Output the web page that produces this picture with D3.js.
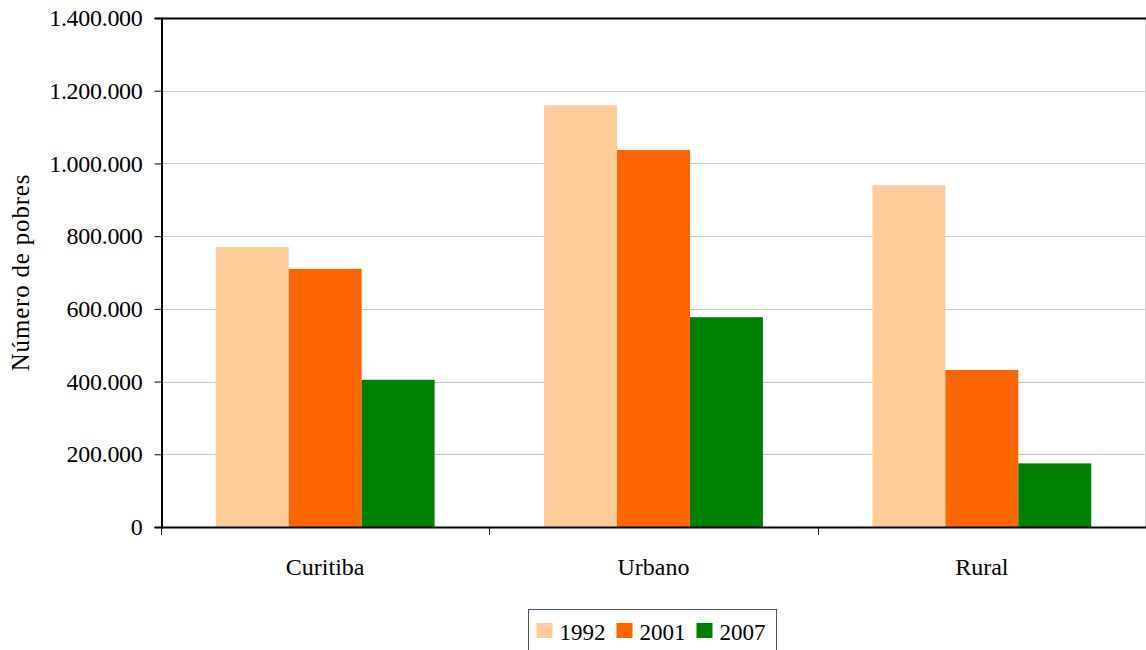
<!DOCTYPE html>
<html>
<head>
<meta charset="utf-8">
<script src="https://cdn.jsdelivr.net/npm/d3@7"></script>
<style>
  html, body { margin: 0; padding: 0; background: #fff; }
  svg { display: block; }
  svg text { font-family: "Liberation Serif", Tinos, "Times New Roman", "DejaVu Serif", serif !important; fill: #000; }
</style>
</head>
<body>
<svg id="chart" width="1146" height="650"></svg>
<script>
// Number of poor people by area and year
const categories = ["Curitiba", "Urbano", "Rural"];
const years = ["1992", "2001", "2007"];
const values1992 = [770000, 1160000, 940000];
const values2001 = [710000, 1037000, 432000];
const values2007 = [405000, 577000, 175000];
const yTicks = [0, 200000, 400000, 600000, 800000, 1000000, 1200000, 1400000];
const colors = ["#FFCC99", "#FF6600", "#008000"];

const seriesValues = [values1992, values2001, values2007];
const FONT = "'Liberation Serif', Tinos, 'Times New Roman', 'DejaVu Serif', serif";

const svg = d3.select("#chart");
const margin = { left: 161, top: 18, right: 1145, bottom: 527 };

const x = d3.scaleBand()
  .domain(categories)
  .range([margin.left, 1146])
  .paddingInner(0)
  .paddingOuter(0);

const x1 = d3.scaleBand()
  .domain(years)
  .range([0, x.bandwidth()])
  .paddingInner(0)
  .paddingOuter(0.75);

const y = d3.scaleLinear()
  .domain([0, 1400000])
  .range([margin.bottom, margin.top]);

// Portuguese-style thousands separator
const fmt = d => d3.format(",")(d).replace(/,/g, ".");

// Gridlines
svg.append("g")
  .selectAll("line")
  .data(yTicks.slice(1))
  .join("line")
  .attr("x1", margin.left)
  .attr("x2", margin.right)
  .attr("y1", d => Math.round(y(d)) + 0.5)
  .attr("y2", d => Math.round(y(d)) + 0.5)
  .attr("stroke", "#c8c8c8")
  .attr("stroke-width", 1);

// Right border of plot area
svg.append("line")
  .attr("x1", margin.right + 0.5).attr("x2", margin.right + 0.5)
  .attr("y1", margin.top).attr("y2", margin.bottom)
  .attr("stroke", "#d0d0d0");

// Bars
const groups = svg.append("g")
  .selectAll("g")
  .data(categories)
  .join("g")
  .attr("transform", d => `translate(${x(d)},0)`);

groups.selectAll("rect")
  .data((c, i) => years.map((yr, s) => ({ yr, s, v: seriesValues[s][i] })))
  .join("rect")
  .attr("x", d => x1(d.yr))
  .attr("width", x1.bandwidth())
  .attr("y", d => y(d.v))
  .attr("height", d => y(0) - y(d.v))
  .attr("fill", d => colors[d.s]);

// Top border
svg.append("line")
  .attr("x1", margin.left).attr("x2", 1146)
  .attr("y1", margin.top + 0.5).attr("y2", margin.top + 0.5)
  .attr("stroke", "#000").attr("stroke-width", 2);

// Y axis
const yAxis = d3.axisLeft(y)
  .tickValues(yTicks)
  .tickFormat(fmt)
  .tickSize(7)
  .tickPadding(12);

const gy = svg.append("g")
  .attr("transform", `translate(${margin.left + 0.5},0)`)
  .call(yAxis)
  .attr("font-family", FONT)
  .attr("font-size", 24);
gy.select(".domain").attr("stroke", "#000").attr("stroke-width", 2);
gy.selectAll(".tick line").attr("stroke", "#000");
gy.selectAll(".tick text").attr("fill", "#000").attr("letter-spacing", -0.3);

// X axis (ticks between categories)
const xAxisLine = svg.append("g");
xAxisLine.append("line")
  .attr("x1", margin.left).attr("x2", 1146)
  .attr("y1", margin.bottom + 0.5).attr("y2", margin.bottom + 0.5)
  .attr("stroke", "#000").attr("stroke-width", 2);
xAxisLine.selectAll("line.tk")
  .data(categories)
  .join("line")
  .attr("class", "tk")
  .attr("x1", d => Math.round(x(d)) + 0.5)
  .attr("x2", d => Math.round(x(d)) + 0.5)
  .attr("y1", margin.bottom)
  .attr("y2", margin.bottom + 8)
  .attr("stroke", "#000");

svg.append("g")
  .attr("font-family", FONT)
  .selectAll("text")
  .data(categories)
  .join("text")
  .attr("x", d => x(d) + x.bandwidth() / 2)
  .attr("y", 575)
  .attr("text-anchor", "middle")
  .attr("font-size", 24)
  .text(d => d);

// Y axis title
svg.append("text")
  .attr("font-family", FONT)
  .attr("transform", `translate(29,${(margin.top + margin.bottom) / 2}) rotate(-90)`)
  .attr("text-anchor", "middle")
  .attr("font-size", 25)
  .attr("letter-spacing", 0.8)
  .text("Número de pobres");

// Legend
const legend = svg.append("g")
  .attr("font-family", FONT)
  .attr("transform", "translate(528.5,609.5)");
legend.append("rect")
  .attr("width", 248)
  .attr("height", 50)
  .attr("fill", "#fff")
  .attr("stroke", "#555")
  .attr("stroke-width", 1);
const items = legend.selectAll("g.item")
  .data(years)
  .join("g")
  .attr("class", "item")
  .attr("transform", (d, i) => `translate(${8 + i * 80},13.5)`);
items.append("rect")
  .attr("width", 16)
  .attr("height", 15)
  .attr("fill", (d, i) => colors[i]);
items.append("text")
  .attr("x", 23)
  .attr("y", 17)
  .attr("font-size", 23)
  .text(d => d);
</script>
</body>
</html>
